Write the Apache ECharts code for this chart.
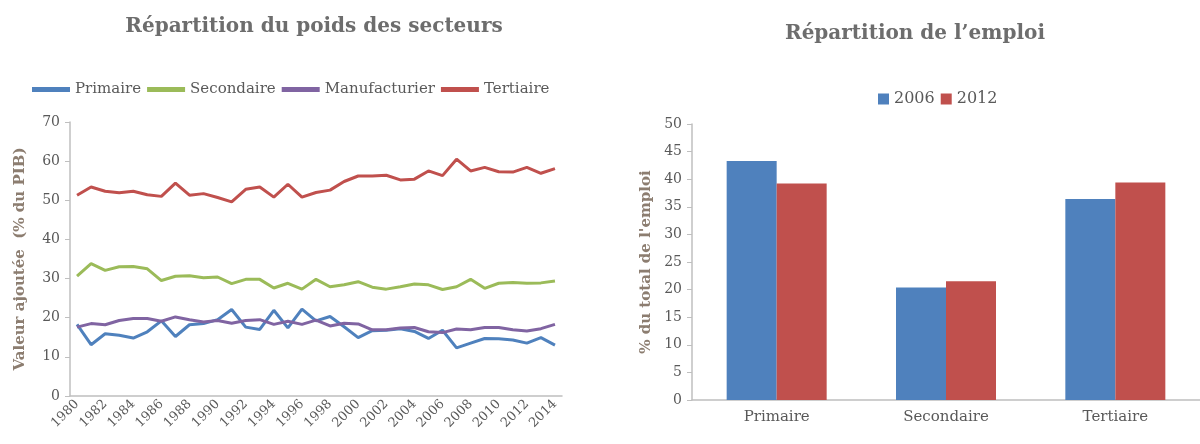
<!DOCTYPE html>
<html>
<head>
<meta charset="utf-8">
<script src="https://cdn.jsdelivr.net/npm/echarts@6/dist/echarts.min.js"></script>
<style>
html, body { margin:0; padding:0; background:#fff; }
#main { width:1200px; height:444px; }
</style>
</head>
<body>
<div id="main"></div>
<script>
// valeur ajoutee par secteur (% du PIB)
var years = ['1980','1981','1982','1983','1984','1985','1986','1987','1988','1989',
	'1990','1991','1992','1993','1994','1995','1996','1997','1998','1999',
	'2000','2001','2002','2003','2004','2005','2006','2007','2008','2009',
	'2010','2011','2012','2013','2014'];
var primaire = [18.3,13.1,15.9,15.5,14.8,16.4,19.2,15.2,18.2,18.5,
	19.5,22.1,17.6,17.0,21.9,17.4,22.2,19.2,20.3,17.7,
	14.9,16.7,16.8,17.2,16.5,14.7,16.8,12.3,13.5,14.7,
	14.6,14.3,13.5,14.9,13.0];
var secondaire = [30.6,33.8,32.1,33.0,33.1,32.5,29.5,30.6,30.7,30.2,
	30.4,28.7,29.8,29.8,27.6,28.8,27.3,29.8,27.9,28.4,
	29.2,27.8,27.3,27.9,28.6,28.4,27.2,27.9,29.8,27.5,
	28.8,29.0,28.8,28.9,29.4];
var manufacturier = [17.6,18.5,18.2,19.3,19.8,19.8,19.1,20.2,19.5,18.9,
	19.3,18.6,19.3,19.5,18.3,19.1,18.3,19.4,17.9,18.6,
	18.4,16.9,16.9,17.4,17.5,16.4,16.2,17.1,16.9,17.5,
	17.5,16.9,16.6,17.2,18.3];
var tertiaire = [51.3,53.4,52.3,51.9,52.3,51.4,51.0,54.4,51.3,51.7,
	50.7,49.6,52.8,53.4,50.8,54.1,50.8,52.0,52.6,54.8,
	56.2,56.2,56.4,55.2,55.4,57.5,56.3,60.5,57.5,58.4,
	57.3,57.2,58.4,56.9,58.1];

// repartition de l'emploi
var secteurs = ['Primaire','Secondaire','Tertiaire'];
var emploi2006 = [43.3, 20.4, 36.4];
var emploi2012 = [39.2, 21.5, 39.4];

var font = 'DejaVu Serif';
var grey = '#595959', axisGrey = '#bfbfbf', nameCol = '#8c7d70';
var cBlue = '#4f81bd', cGreen = '#9bbb59', cPurple = '#8064a2', cRed = '#c0504d';

function lineSerie(name, data, color){
	return { name:name, type:'line', xAxisIndex:0, yAxisIndex:0, data:data, symbol:'none',
		lineStyle:{ width:3, color:color }, itemStyle:{ color:color } };
}

var option = {
	animation: false,
	textStyle: { fontFamily: font },
	title: [
		{ text:'Répartition du poids des secteurs', left:309, top:12, textAlign:'center',
		  textStyle:{ fontFamily:font, fontSize:20, fontWeight:'bold', color:'#6d6d6d' } },
		{ text:'Répartition de l\u2019emploi', left:910, top:19, textAlign:'center',
		  textStyle:{ fontFamily:font, fontSize:20, fontWeight:'bold', color:'#6d6d6d' } }
	],
	legend: [
		{ data:['Primaire','Secondaire','Manufacturier','Tertiaire'], left:27, top:77,
		  icon:'rect', itemWidth:38, itemHeight:5, itemGap:6,
		  textStyle:{ fontFamily:font, fontSize:15, color:grey } },
		{ data:['2006','2012'], left:873, top:86, icon:'rect', itemWidth:11, itemHeight:11, itemGap:6,
		  textStyle:{ fontFamily:font, fontSize:16, color:grey } }
	],
	grid: [
		{ left:70, top:122, width:492, height:274 },
		{ left:692, top:124, width:531, height:276 }
	],
	xAxis: [
		{ type:'category', gridIndex:0, data:years, boundaryGap:true,
		  axisLine:{ lineStyle:{ color:axisGrey, width:1.5 } },
		  axisTick:{ interval:0, length:5, lineStyle:{ color:axisGrey } },
		  axisLabel:{ interval:1, rotate:45, fontSize:13, color:grey, margin:6, fontFamily:font } },
		{ type:'category', gridIndex:1, data:secteurs, boundaryGap:true,
		  axisLine:{ lineStyle:{ color:axisGrey, width:1.5 } },
		  axisTick:{ length:5, lineStyle:{ color:axisGrey } },
		  axisLabel:{ fontSize:15, color:grey, margin:10, fontFamily:font } }
	],
	yAxis: [
		{ type:'value', gridIndex:0, min:0, max:70, interval:10,
		  name:'Valeur ajoutée  (% du PIB)', nameLocation:'middle', nameGap:42, nameRotate:90,
		  nameTextStyle:{ fontFamily:font, fontSize:15, fontWeight:'bold', color:nameCol },
		  axisLine:{ show:true, lineStyle:{ color:axisGrey, width:1.5 } },
		  axisTick:{ show:true, length:5, lineStyle:{ color:axisGrey } },
		  splitLine:{ show:false },
		  axisLabel:{ fontSize:14, color:grey, margin:10, fontFamily:font } },
		{ type:'value', gridIndex:1, min:0, max:50, interval:5,
		  name:'% du total de l\'emploi', nameLocation:'middle', nameGap:38, nameRotate:90,
		  nameTextStyle:{ fontFamily:font, fontSize:15, fontWeight:'bold', color:nameCol },
		  axisLine:{ show:true, lineStyle:{ color:axisGrey, width:1.5 } },
		  axisTick:{ show:true, length:5, lineStyle:{ color:axisGrey } },
		  splitLine:{ show:false },
		  axisLabel:{ fontSize:14, color:grey, margin:10, fontFamily:font } }
	],
	series: [
		lineSerie('Primaire', primaire, cBlue),
		lineSerie('Secondaire', secondaire, cGreen),
		lineSerie('Manufacturier', manufacturier, cPurple),
		lineSerie('Tertiaire', tertiaire, cRed),
		{ name:'2006', type:'bar', xAxisIndex:1, yAxisIndex:1, data:emploi2006,
		  barWidth:50, barGap:'0%', itemStyle:{ color:cBlue } },
		{ name:'2012', type:'bar', xAxisIndex:1, yAxisIndex:1, data:emploi2012,
		  barWidth:50, barGap:'0%', itemStyle:{ color:cRed } }
	]
};

var chart = echarts.init(document.getElementById('main'));
chart.setOption(option);
</script>
</body>
</html>
